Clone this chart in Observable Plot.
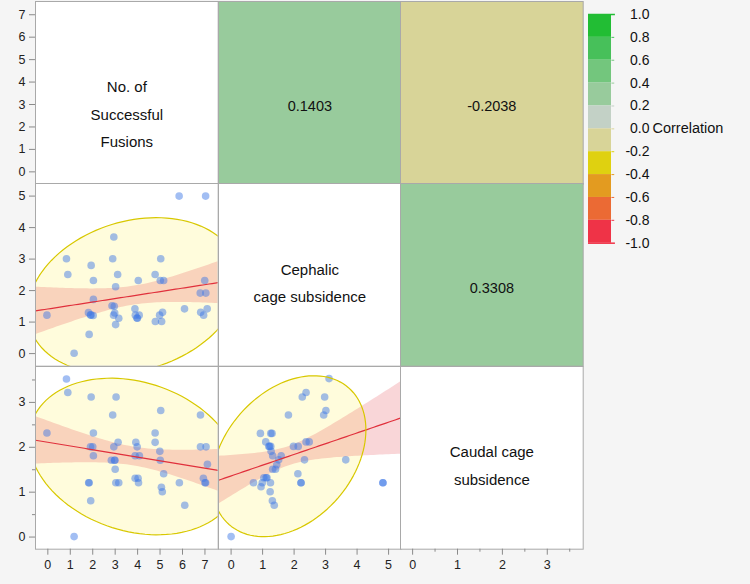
<!DOCTYPE html>
<html><head><meta charset="utf-8">
<script src="https://cdn.jsdelivr.net/npm/d3@7"></script>
<script src="https://cdn.jsdelivr.net/npm/@observablehq/plot@0.6"></script>
<style>
body{margin:0;background:#f5f5f5;font-family:"Liberation Sans",Arial,sans-serif;}
#chart{position:relative;width:750px;height:584px;overflow:hidden;background:#f5f5f5;}
#chart svg{position:absolute;background:transparent;overflow:visible;}
</style></head><body><div id="chart"></div>
<script>
// ---------- data ----------
const variables = ["No. of\nSuccessful\nFusions", "Cephalic\ncage subsidence", "Caudal cage\nsubsidence"];
const domains = [[-0.55, 7.59], [-0.40, 5.40], [-0.27, 3.80]];
const majorTicks = [[0,1,2,3,4,5,6,7], [0,1,2,3,4,5], [0,1,2,3]];
const minorTicks = [[], [], [0.5,1.5,2.5,3.5]];
const correlationPairs = [[0,1],[0,2],[1,2]];
const correlations = [0.1403, -0.2038, 0.3308];

// Fusions (jittered) vs Cephalic
const fcFusions = [5.85,7.03,2.94,0.83,2.89,5.03,0.89,1.93,3.11,4.78,2.03,4.03,5.01,5.16,6.99,3.02,2.03,6.79,7.04,2.86,2.96,3.88,6.09,7.10,-0.04,1.81,1.90,1.92,2.02,2.98,2.93,3.16,3.02,3.90,3.97,3.99,4.07,4.79,5.07,4.98,5.11,6.81,6.94,1.84,1.17];
const fcCephalic = [5.00,5.00,3.70,3.01,3.01,3.01,2.51,2.80,2.51,2.51,2.32,2.32,2.32,2.32,2.32,2.12,1.72,1.92,1.92,1.52,1.50,1.42,1.42,1.42,1.22,1.30,1.23,1.22,1.21,1.29,1.22,1.12,0.92,1.22,1.13,1.12,1.22,1.02,1.02,1.22,1.31,1.31,1.22,0.61,0.01];
// Fusions (jittered) vs Caudal
const fdFusions = [0.83,0.89,1.93,3.04,2.89,5.03,6.80,-0.04,2.03,4.78,3.13,3.92,4.78,1.90,2.00,2.94,3.98,6.80,7.05,4.99,2.03,3.89,4.08,2.83,2.97,2.99,5.01,7.11,3.00,5.16,3.89,4.02,6.93,1.82,1.84,3.03,3.16,4.04,5.86,7.00,7.03,5.06,5.10,1.91,6.10,1.17];
const fdCaudal = [3.52,3.22,3.12,3.12,2.72,2.82,2.72,2.32,2.32,2.32,2.11,2.11,2.11,2.01,2.01,2.01,2.01,2.01,2.01,1.91,1.81,1.81,1.81,1.71,1.71,1.71,1.71,1.62,1.51,1.41,1.31,1.31,1.31,1.21,1.21,1.21,1.21,1.21,1.21,1.21,1.21,1.11,1.01,0.81,0.71,0.01];
// Cephalic vs Caudal
const cdCephalic = [3.11,2.38,2.26,2.97,3.01,2.94,1.82,0.93,1.26,1.30,1.10,1.20,1.26,1.98,2.13,2.38,2.48,1.27,1.32,1.59,1.51,2.33,3.64,1.45,1.32,1.41,2.12,1.04,1.11,1.14,0.71,0.99,1.25,2.22,2.22,4.82,4.82,0.95,1.24,1.31,1.37,0.00,1.22];
const cdCaudal = [3.53,3.22,3.12,3.12,2.82,2.72,2.72,2.31,2.31,2.31,2.12,2.02,2.02,2.02,2.02,2.12,2.12,1.91,1.81,1.81,1.72,1.72,1.72,1.61,1.51,1.51,1.41,1.32,1.32,1.32,1.21,1.21,1.21,1.21,1.21,1.21,1.21,1.12,1.01,0.81,0.71,0.01,2.02];

const legendTicks = [1.0,0.8,0.6,0.4,0.2,0.0,-0.2,-0.4,-0.6,-0.8,-1.0];
const legendColors = ["#22bd34","#47c05a","#73c67d","#98cb9c","#c3d1c6","#d8d498","#dfd110","#e39b20","#eb6a34","#ef3347"]; // top to bottom

// ---------- layout ----------
const X0 = 35, Y0 = 0.5, S = 182.7;
const FONT = "'Liberation Sans', Arial, sans-serif";
const chart = document.getElementById("chart");

const scatterSets = {
  "0-1": [fcFusions, fcCephalic],
  "0-2": [fdFusions, fdCaudal],
  "1-2": [cdCephalic, cdCaudal]
};

const cellColor = d3.scaleThreshold()
  .domain([-0.8,-0.6,-0.4,-0.25,0,0.1,0.4,0.6,0.8])
  .range(legendColors.slice().reverse());

function stats(xs, ys) {
  const n = xs.length, mx = d3.mean(xs), my = d3.mean(ys);
  let sxx = 0, syy = 0, sxy = 0;
  for (let k = 0; k < n; k++) { const dx = xs[k]-mx, dy = ys[k]-my; sxx += dx*dx; syy += dy*dy; sxy += dx*dy; }
  const b = sxy/sxx, a = my - b*mx;
  const s = Math.sqrt((syy - b*sxy)/(n-2));
  return {n, mx, my, sxx, sx: Math.sqrt(sxx/(n-1)), sy: Math.sqrt(syy/(n-1)), r: sxy/Math.sqrt(sxx*syy), a, b, s};
}

function place(svg, left, top) {
  svg.style.left = left + "px"; svg.style.top = top + "px";
  chart.appendChild(svg);
}

const mL = 40, mR = 10, mT = 10, mB = 40;
const labelDy = [18, 5, 4.5];

for (let i = 0; i < 3; i++) {
  for (let j = 0; j < 3; j++) {
    const marks = [];
    if (i > j) {
      marks.push(Plot.frame({fill: "white", stroke: "none"}));
      const [xs, ys] = scatterSets[j + "-" + i];
      const st = stats(xs, ys);
      const c = Math.sqrt(5.991);
      const ell = d3.range(0, 361, 3).map(deg => {
        const t = deg * Math.PI / 180;
        return {x: st.mx + c*st.sx*Math.cos(t), y: st.my + c*st.sy*(st.r*Math.cos(t) + Math.sqrt(1-st.r*st.r)*Math.sin(t))};
      });
      const tq = 2.0195;
      const [x0, x1] = domains[j];
      const band = d3.range(0, 61).map(k => {
        const x = x0 + (x1-x0)*k/60;
        const f = st.a + st.b*x;
        const h = tq*st.s*Math.sqrt(1/st.n + (x-st.mx)**2/st.sxx);
        return {x, f, lo: f-h, hi: f+h};
      });
      const pts = xs.map((x, k) => ({x, y: ys[k]}));
      marks.push(
        Plot.line(ell, {x: "x", y: "y", fill: "#fffcdc", stroke: "none", clip: true}),
        Plot.areaY(band, {x: "x", y1: "lo", y2: "hi", fill: "#e0323c", fillOpacity: 0.2, clip: true}),
        Plot.dot(pts, {x: "x", y: "y", r: 3.8, fill: "#3c78e6", fillOpacity: 0.48, stroke: "none"}),
        Plot.line(band, {x: "x", y: "f", stroke: "#e0303c", strokeWidth: 1.2, clip: true}),
        Plot.line(ell, {x: "x", y: "y", stroke: "#d8c800", strokeWidth: 1.2, clip: true})
      );
    } else if (i === j) {
      marks.push(Plot.frame({fill: "white", stroke: "none"}));
      marks.push(Plot.text([variables[i]], {text: d => d, frameAnchor: "middle", lineAnchor: "middle",
        dy: labelDy[i], lineHeight: 1.83, fontSize: 15, fill: "#111"}));
    } else {
      const idx = correlationPairs.findIndex(p => p[0] === i && p[1] === j);
      const r = correlations[idx];
      marks.push(Plot.frame({fill: cellColor(r), stroke: "none"}));
      marks.push(Plot.text([r], {text: d => d.toFixed(4), frameAnchor: "middle", dy: 13.5, fontSize: 14.5, fill: "#111"}));
    }
    marks.push(Plot.frame({stroke: "#a9a9a9", strokeWidth: 1}));
    if (j === 0) {
      marks.push(Plot.axisY(majorTicks[i], {anchor: "left", tickSize: 6, tickPadding: 4, fontSize: 12.5, stroke: "#8a8a8a", fill: "#222", label: null}));
      if (minorTicks[i].length) marks.push(Plot.axisY(minorTicks[i], {anchor: "left", tickSize: 3, stroke: "#8a8a8a", fill: "none", label: null}));
    }
    if (i === 2) {
      marks.push(Plot.axisX(majorTicks[j], {anchor: "bottom", tickSize: 6, tickPadding: 5, fontSize: 12.5, stroke: "#8a8a8a", fill: "#222", label: null}));
      if (minorTicks[j].length) marks.push(Plot.axisX(minorTicks[j], {anchor: "bottom", tickSize: 3, stroke: "#8a8a8a", fill: "none", label: null}));
    }
    const svg = Plot.plot({
      width: S + mL + mR, height: S + mT + mB,
      marginLeft: mL, marginRight: mR, marginTop: mT, marginBottom: mB,
      x: {domain: domains[j], axis: null},
      y: {domain: domains[i], axis: null},
      style: {background: "transparent", overflow: "visible", fontFamily: FONT},
      marks
    });
    place(svg, X0 + j*S - mL, Y0 + i*S - mT);
  }
}

// ---------- legend ----------
const bands = legendColors.map((color, k) => ({hi: legendTicks[k], lo: legendTicks[k+1], color}));
const legTop = 14, legH = 228.7, legMT = 14, legMB = 20;
const legend = Plot.plot({
  width: 165, height: legH + legMT + legMB,
  marginLeft: 0, marginRight: 0, marginTop: legMT, marginBottom: legMB,
  x: {domain: [0, 1], range: [0, 23], axis: null},
  y: {domain: [-1, 1], axis: null},
  style: {background: "transparent", overflow: "visible", fontFamily: FONT},
  marks: [
    Plot.rect(bands, {x1: 0, x2: 1, y1: "lo", y2: "hi", fill: "color"}),
    Plot.ruleY(bands.slice(0, -1), {y: "lo", x1: 1.02, x2: 1.14, stroke: d => bands[bands.indexOf(d)+1].color, strokeWidth: 1}),
    Plot.ruleY([1], {x1: 0, x2: 1.17, stroke: legendColors[0], strokeWidth: 1.5}),
    Plot.ruleY([-1], {x1: 0, x2: 1.17, stroke: legendColors[9], strokeWidth: 1.5}),
    Plot.text(legendTicks, {x: 1, y: d => d, text: d => d.toFixed(1), textAnchor: "end", dx: 38, fontSize: 14, fill: "#111"}),
    Plot.text(["Correlation"], {x: () => 1, y: () => 0, text: d => d, textAnchor: "start", dx: 41, fontSize: 14.5, fill: "#111"})
  ]
});
place(legend, 588.3, legTop - legMT);
</script></body></html>
